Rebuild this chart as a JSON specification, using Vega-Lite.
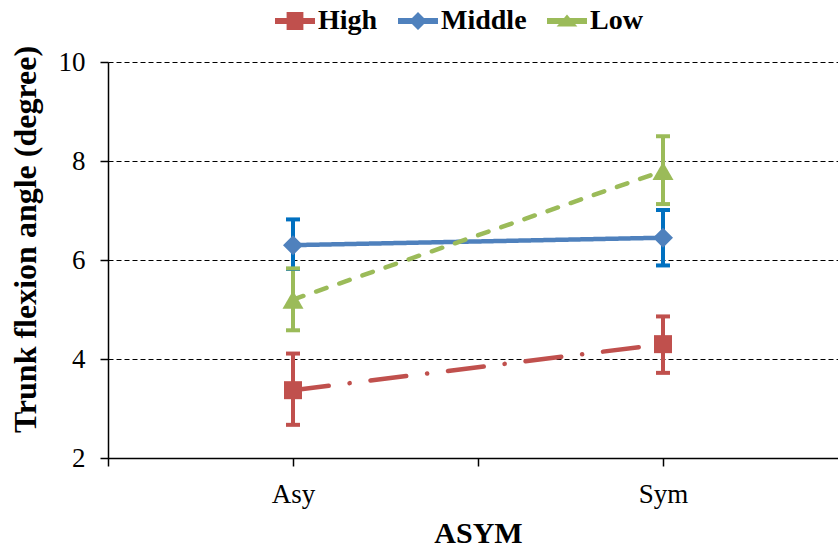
{
  "$schema": "https://vega.github.io/schema/vega-lite/v6.json",
  "width": 740,
  "height": 396,
  "autosize": {"type": "none"},
  "padding": {"left": 108, "top": 62, "right": 0, "bottom": 92},
  "background": "white",
  "config": {"view": {"stroke": null}, "font": "Liberation Serif"},
  "data": {
    "values": [
      {"group": "High", "cond": "Asy", "mean": 3.37, "lo": 2.67, "hi": 4.11},
      {"group": "High", "cond": "Sym", "mean": 4.30, "lo": 3.72, "hi": 4.86},
      {"group": "Middle", "cond": "Asy", "mean": 6.30, "lo": 5.82, "hi": 6.82},
      {"group": "Middle", "cond": "Sym", "mean": 6.45, "lo": 5.89, "hi": 7.01},
      {"group": "Low", "cond": "Asy", "mean": 5.20, "lo": 4.58, "hi": 5.83},
      {"group": "Low", "cond": "Sym", "mean": 7.80, "lo": 7.13, "hi": 8.50}
    ]
  },
  "resolve": {"axis": {"x": "independent"}},
  "layer": [
    {
      "mark": {"type": "point", "filled": true, "opacity": 0},
      "encoding": {
        "x": {"field": "cond", "type": "nominal", "scale": {"type": "band", "paddingInner": 0, "paddingOuter": 0, "domain": ["Asy", "Sym"]}, "axis": null},
        "y": {
          "field": "mean", "type": "quantitative",
          "scale": {"domain": [2, 10], "nice": false, "zero": false},
          "axis": {
            "title": "Trunk flexion angle (degree)",
            "values": [2, 4, 6, 8, 10],
            "grid": true, "gridColor": "#000", "gridDash": [5, 3], "gridWidth": 1, "gridOpacity": 1,
            "domainColor": "#000", "domainWidth": 1.5,
            "tickColor": "#000", "tickSize": 8, "tickWidth": 1.5,
            "labelFont": "Liberation Serif", "labelFontSize": 27, "labelColor": "#000", "labelPadding": 15,
            "titleFont": "Liberation Serif", "titleFontSize": 32, "titleFontWeight": "bold", "titleColor": "#000",
            "titleX": -66, "titleY": 177, "titleAngle": 270, "titleBaseline": "bottom", "titleAlign": "center"
          }
        },
        "color": {
          "field": "group", "type": "nominal",
          "scale": {"domain": ["High", "Middle", "Low"], "range": ["#C0504D", "#4F81BD", "#9BBB59"]},
          "legend": {
            "title": null, "orient": "none", "legendX": 167, "legendY": -61, "direction": "horizontal",
            "symbolSize": 1600, "symbolStrokeWidth": 0, "symbolOpacity": 1,
            "labelFont": "Liberation Serif", "labelFontSize": 28, "labelFontWeight": "bold", "labelColor": "#000",
            "labelOffset": 3, "columnPadding": 20, "padding": 0
          }
        },
        "shape": {
          "field": "group", "type": "nominal",
          "scale": {
            "domain": ["High", "Middle", "Low"],
            "range": [
              "M-1,-0.15H-0.42V-0.45H0.42V-0.15H1V0.15H0.42V0.45H-0.42V0.15H-1Z",
              "M-1,-0.15H-0.3L0,-0.45L0.3,-0.15H1V0.15H0.3L0,0.45L-0.3,0.15H-1Z",
              "M-1,-0.15H-0.147L0,-0.32L0.147,-0.15H1V0.15H0.407L0.52,0.28H-0.52L-0.407,0.15H-1Z"
            ]
          },
          "legend": {
            "title": null, "orient": "none", "legendX": 167, "legendY": -61, "direction": "horizontal",
            "symbolSize": 1600, "symbolStrokeWidth": 0, "symbolOpacity": 1,
            "labelFont": "Liberation Serif", "labelFontSize": 28, "labelFontWeight": "bold", "labelColor": "#000",
            "labelOffset": 3, "columnPadding": 20, "padding": 0
          }
        }
      }
    },
    {
      "mark": {"type": "rule", "strokeWidth": 4},
      "encoding": {
        "x": {
          "field": "cond", "type": "nominal",
          "scale": {"type": "band", "paddingInner": 0, "paddingOuter": 0, "domain": ["Asy", "Sym"]},
          "axis": {
            "orient": "bottom", "title": "ASYM",
            "titleFont": "Liberation Serif", "titleFontSize": 30, "titleFontWeight": "bold", "titleColor": "#000",
            "titleBaseline": "alphabetic", "titleY": 84,
            "labelFont": "Liberation Serif", "labelFontSize": 27, "labelColor": "#000",
            "labelBaseline": "alphabetic", "labelPadding": 36, "labelAngle": 0,
            "tickBand": "extent", "tickSize": 8, "tickColor": "#000", "tickWidth": 1.5,
            "domainColor": "#000", "domainWidth": 1.5, "grid": false
          }
        },
        "y": {"field": "lo", "type": "quantitative"},
        "y2": {"field": "hi"},
        "stroke": {
          "field": "group", "type": "nominal",
          "scale": {"domain": ["High", "Middle", "Low"], "range": ["#C0504D", "#0070C0", "#9BBB59"]},
          "legend": null
        }
      }
    },
    {
      "mark": {"type": "tick", "size": 14, "thickness": 4, "filled": true, "opacity": 1},
      "encoding": {
        "x": {
          "field": "cond", "type": "nominal",
          "scale": {"type": "band", "paddingInner": 0, "paddingOuter": 0, "domain": ["Asy", "Sym"]},
          "axis": {"orient": "bottom", "labels": false, "domain": false, "title": null, "ticks": true, "tickSize": 8, "tickColor": "#000", "tickWidth": 1.5, "grid": false}
        },
        "y": {"field": "lo", "type": "quantitative"},
        "fill": {
          "field": "group", "type": "nominal",
          "scale": {"domain": ["High", "Middle", "Low"], "range": ["#C0504D", "#0070C0", "#9BBB59"]},
          "legend": null
        }
      }
    },
    {
      "mark": {"type": "tick", "size": 14, "thickness": 4, "filled": true, "opacity": 1},
      "encoding": {
        "x": {"field": "cond", "type": "nominal", "axis": null},
        "y": {"field": "hi", "type": "quantitative"},
        "fill": {"field": "group", "type": "nominal", "legend": null}
      }
    },
    {
      "mark": {"type": "line", "strokeWidth": 4.5, "strokeCap": "round"},
      "encoding": {
        "x": {"field": "cond", "type": "nominal", "axis": null},
        "y": {"field": "mean", "type": "quantitative"},
        "color": {"field": "group", "type": "nominal", "legend": null},
        "strokeDash": {
          "field": "group", "type": "nominal",
          "scale": {"domain": ["High", "Middle", "Low"], "range": [[36, 21, 0.1, 21], [1, 0], [11, 13.5]]},
          "legend": null
        }
      }
    },
    {
      "transform": [{"filter": "datum.group === 'High'"}],
      "mark": {"type": "point", "filled": true, "opacity": 1, "shape": "square", "size": 324},
      "encoding": {
        "x": {"field": "cond", "type": "nominal", "axis": null},
        "y": {"field": "mean", "type": "quantitative"},
        "color": {"field": "group", "type": "nominal", "legend": null}
      }
    },
    {
      "transform": [{"filter": "datum.group === 'Middle'"}],
      "mark": {"type": "point", "filled": true, "opacity": 1, "shape": "diamond", "size": 400},
      "encoding": {
        "x": {"field": "cond", "type": "nominal", "axis": null},
        "y": {"field": "mean", "type": "quantitative"},
        "color": {"field": "group", "type": "nominal", "legend": null}
      }
    },
    {
      "transform": [{"filter": "datum.group === 'Low'"}],
      "mark": {"type": "point", "filled": true, "opacity": 1, "shape": "triangle-up", "size": 440},
      "encoding": {
        "x": {"field": "cond", "type": "nominal", "axis": null},
        "y": {"field": "mean", "type": "quantitative"},
        "color": {"field": "group", "type": "nominal", "legend": null}
      }
    }
  ]
}
